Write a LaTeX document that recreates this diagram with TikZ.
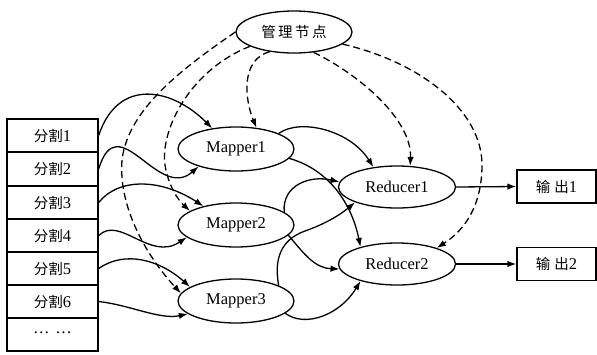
\documentclass[tikz,border=0pt]{standalone}
\usepackage{fontspec}
\setmainfont{Liberation Serif}
\newfontfamily\cjk{Noto Sans CJK SC}
\newcommand\zhtext[1]{{\fontsize{14.5}{16}\selectfont\cjk #1}}
\usetikzlibrary{arrows.meta,shapes.geometric}
\begin{document}
\begin{tikzpicture}[x=1pt,y=-1pt,
 every node/.style={font=\fontsize{16.5}{18}\selectfont, inner sep=0pt},
 ell/.style={draw, ellipse, line width=1.3pt, minimum width=116pt, minimum height=44pt},
 redell/.style={draw, ellipse, line width=1.3pt, minimum width=117pt, minimum height=42pt},
 box/.style={draw, rectangle, line width=1.4pt, minimum width=91pt, minimum height=33pt},
 obox/.style={draw, rectangle, line width=1.3pt, minimum width=79pt, minimum height=33pt},
 con/.style={line width=1.3pt, -{Latex[length=9pt,width=6.5pt]}},
 dsh/.style={con, dash pattern=on 7pt off 4pt}
]
\useasboundingbox (0,0) rectangle (597,354);

% management node
\node[draw, ellipse, line width=1.3pt, minimum width=116pt, minimum height=42pt] (mgr) at (294,32) {\zhtext{管\hspace{2.5pt}理\hspace{2.5pt}节\hspace{2.5pt}点}};

% splits
\node[box] (s1) at (52.5,135.5) {\zhtext{分割}1};
\node[box] (s2) at (52.5,169) {\zhtext{分割}2};
\node[box] (s3) at (52.5,202.5) {\zhtext{分割}3};
\node[box] (s4) at (52.5,235.5) {\zhtext{分割}4};
\node[box] (s5) at (52.5,268.5) {\zhtext{分割}5};
\node[box] (s6) at (52.5,301.5) {\zhtext{分割}6};
\node[box] (s7) at (52.5,334.5) {\raisebox{4pt}{\ldots}\hspace{6pt}\raisebox{4pt}{\ldots}};

% mappers
\node[ell] (m1) at (236,149) {Mapper1};
\node[ell] (m2) at (236,225) {Mapper2};
\node[ell] (m3) at (236,301) {Mapper3};

% reducers
\node[redell] (r1) at (397,187) {Reducer1};
\node[redell] (r2) at (397,264) {Reducer2};

% outputs
\node[obox] (o1) at (556.5,186.5) {\zhtext{输\hspace{4pt}出}1};
\node[obox] (o2) at (556.5,264) {\zhtext{输\hspace{4pt}出}2};

% splits -> mappers
\draw[con] (s1.east) .. controls (118,77) and (172,88) .. (m1.139);
\draw[con] (s2.east) .. controls (118,105) and (158,202) .. (m1.205);
\draw[con] (s3.east) .. controls (118,178) and (160,178) .. (m2.150);
\draw[con] (s4.east) .. controls (120,215) and (150,262) .. (m2.194);
\draw[con] (s5.east) .. controls (125,250) and (160,260) .. (m3.163);
\draw[con] (s6.east) .. controls (130,305) and (160,320) .. (m3.195);

% mappers -> reducers
\draw[con] (m1.20) .. controls (300,118) and (350,130) .. (r1.140);
\draw[con] (m1.350) .. controls (330,170) and (352,205) .. (r2.155);
\draw[con] (m2.15) .. controls (282,185) and (310,175) .. (r1.175);
\draw[con] (m2.349) .. controls (305,255) and (315,268) .. (r2.185);
\draw[con] (m3.20) .. controls (274,260) and (280,240) .. (305,231)
   .. controls (325,224) and (340,215) .. (r1.200);
\draw[con] (m3.346) .. controls (305,328) and (340,315) .. (r2.205);

% reducers -> outputs
\draw[con] (r1.east) -- (o1.west);
\draw[con] (r2.east) -- (o2.west);

% management (dashed)
\draw[dsh] (mgr.180) .. controls (180,70) and (128,110) .. (122,160)
   .. controls (118,210) and (150,260) .. (m3.172);
\draw[dsh] (mgr.198) .. controls (190,70) and (160,130) .. (165,165)
   .. controls (168,185) and (178,200) .. (m2.163);
\draw[dsh] (mgr.219) .. controls (240,60) and (245,100) .. (m1.46);
\draw[dsh] (mgr.314) .. controls (360,75) and (412,120) .. (r1.58);
\draw[dsh] (mgr.346) .. controls (420,62) and (482,110) .. (482,165)
   .. controls (482,205) and (465,230) .. (r2.22);
\end{tikzpicture}
\end{document}
